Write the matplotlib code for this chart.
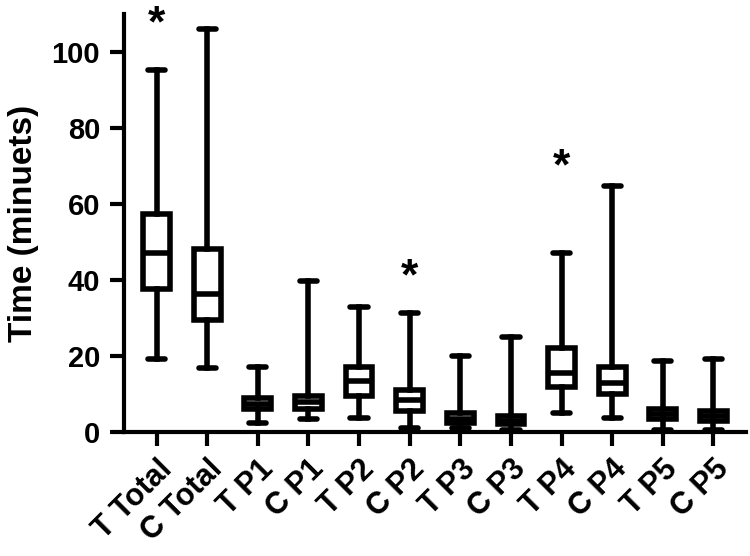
import matplotlib.pyplot as plt

plt.rcParams['font.family'] = ['Liberation Sans', 'DejaVu Sans']
plt.rcParams['font.weight'] = 'bold'

labels = ["T Total", "C Total", "T P1", "C P1", "T P2", "C P2",
          "T P3", "C P3", "T P4", "C P4", "T P5", "C P5"]
whislo = [19.3, 16.9, 2.4, 3.4, 3.7, 1.0, 1.0, 0.5, 5.0, 3.7, 0.6, 0.6]
q1 = [37.6, 29.6, 6.0, 6.0, 9.5, 5.5, 2.5, 2.0, 11.9, 10.0, 3.4, 2.9]
med = [47.0, 36.2, 7.5, 8.0, 13.5, 8.5, 3.5, 3.0, 15.5, 12.8, 4.7, 4.3]
q3 = [57.4, 48.1, 9.0, 9.5, 17.2, 11.1, 5.0, 4.2, 22.2, 17.0, 6.1, 5.6]
whishi = [95.2, 106.0, 17.2, 39.7, 32.8, 31.2, 20.0, 24.9, 47.1, 64.8, 18.8, 19.3]

# significance marks: (group index, y value of baseline)
stars = [(0, 104.0), (5, 37.5), (8, 66.5)]

stats = []
for i in range(len(labels)):
    stats.append({"label": labels[i], "whislo": whislo[i], "q1": q1[i],
                  "med": med[i], "q3": q3[i], "whishi": whishi[i]})

fig = plt.figure(figsize=(7.5, 5.56), dpi=100)
ax = fig.add_axes([0.165, 0.223, 0.83, 0.752])

lw = 4.0
ax.bxp(stats, positions=range(len(labels)), widths=0.53, showfliers=False,
       patch_artist=True,
       boxprops=dict(facecolor="white", edgecolor="black", linewidth=lw),
       medianprops=dict(color="black", linewidth=lw),
       whiskerprops=dict(color="black", linewidth=lw),
       capprops=dict(color="black", linewidth=lw, solid_capstyle="round"),
       capwidths=0.34)

for i, y in stars:
    ax.text(i, y, "*", ha="center", va="baseline", fontsize=32, fontweight="bold")

ax.set_xlim(-0.65, 11.65)
ax.set_ylim(0, 110)
ax.set_yticks([0, 20, 40, 60, 80, 100])
ax.set_xticks(range(len(labels)))
ax.set_xticklabels(labels, rotation=45, ha="right", rotation_mode="anchor",
                   fontsize=22, fontweight="bold")
ax.tick_params(axis="y", labelsize=21, length=10, width=3, pad=7)
ax.tick_params(axis="x", length=10, width=3, pad=6)
ax.set_ylabel("Time (minuets)", fontsize=24, fontweight="bold", labelpad=9)

for s in ["top", "right"]:
    ax.spines[s].set_visible(False)
for s in ["left", "bottom"]:
    ax.spines[s].set_linewidth(3)

fig.savefig("out.png", dpi=100)
